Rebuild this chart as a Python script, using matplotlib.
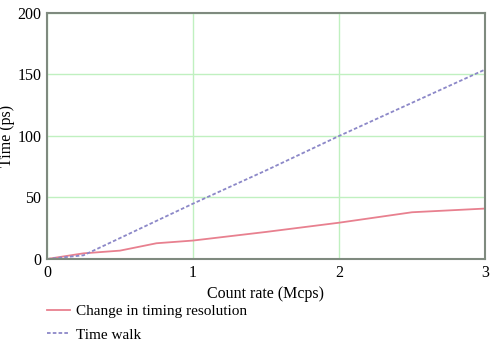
import matplotlib.pyplot as plt

plt.rcParams['font.family'] = ['Liberation Serif', 'DejaVu Serif']

# Data
count_rate = [0, 0.25, 0.5, 0.75, 1.0, 1.5, 2.0, 2.5, 3.0]
timing_resolution = [0, 4.6, 6.8, 12.8, 15, 22, 29.5, 38, 41]
time_walk = [0, 3, 17, 31, 45, 72, 100, 127, 154]

fig = plt.figure(figsize=(4.93, 3.42), dpi=100)
ax = fig.add_axes([0.0953, 0.2427, 0.8885, 0.7193])

ax.plot(count_rate, timing_resolution, color='#e8808f', lw=1.3,
        label='Change in timing resolution')
ax.plot(count_rate, time_walk, color='#8c88c8', lw=1.3, ls=(0, (2, 1.2)),
        label='Time walk')

ax.set_xlim(0, 3)
ax.set_ylim(0, 200)
ax.set_xticks([0, 1, 2, 3])
ax.set_yticks([0, 50, 100, 150, 200])
ax.tick_params(length=0, labelsize=11.5, pad=4)
ax.grid(True, color='#c0f0c0', lw=1.0)
ax.set_axisbelow(True)
for s in ax.spines.values():
    s.set_color('#7f8a7f')
    s.set_linewidth(1.5)

ax.set_xlabel('Count rate (Mcps)', fontsize=11.5, labelpad=4)
ax.set_ylabel('Time (ps)', fontsize=11.5, labelpad=2)

handles, labels = ax.get_legend_handles_labels()
fig.legend(handles, labels, loc='upper left', bbox_to_anchor=(0.089, 0.118),
           frameon=False, fontsize=11, handlelength=1.5, handletextpad=0.4,
           labelspacing=0.62, borderaxespad=0, borderpad=0.2)

fig.savefig('out.png', dpi=100)
